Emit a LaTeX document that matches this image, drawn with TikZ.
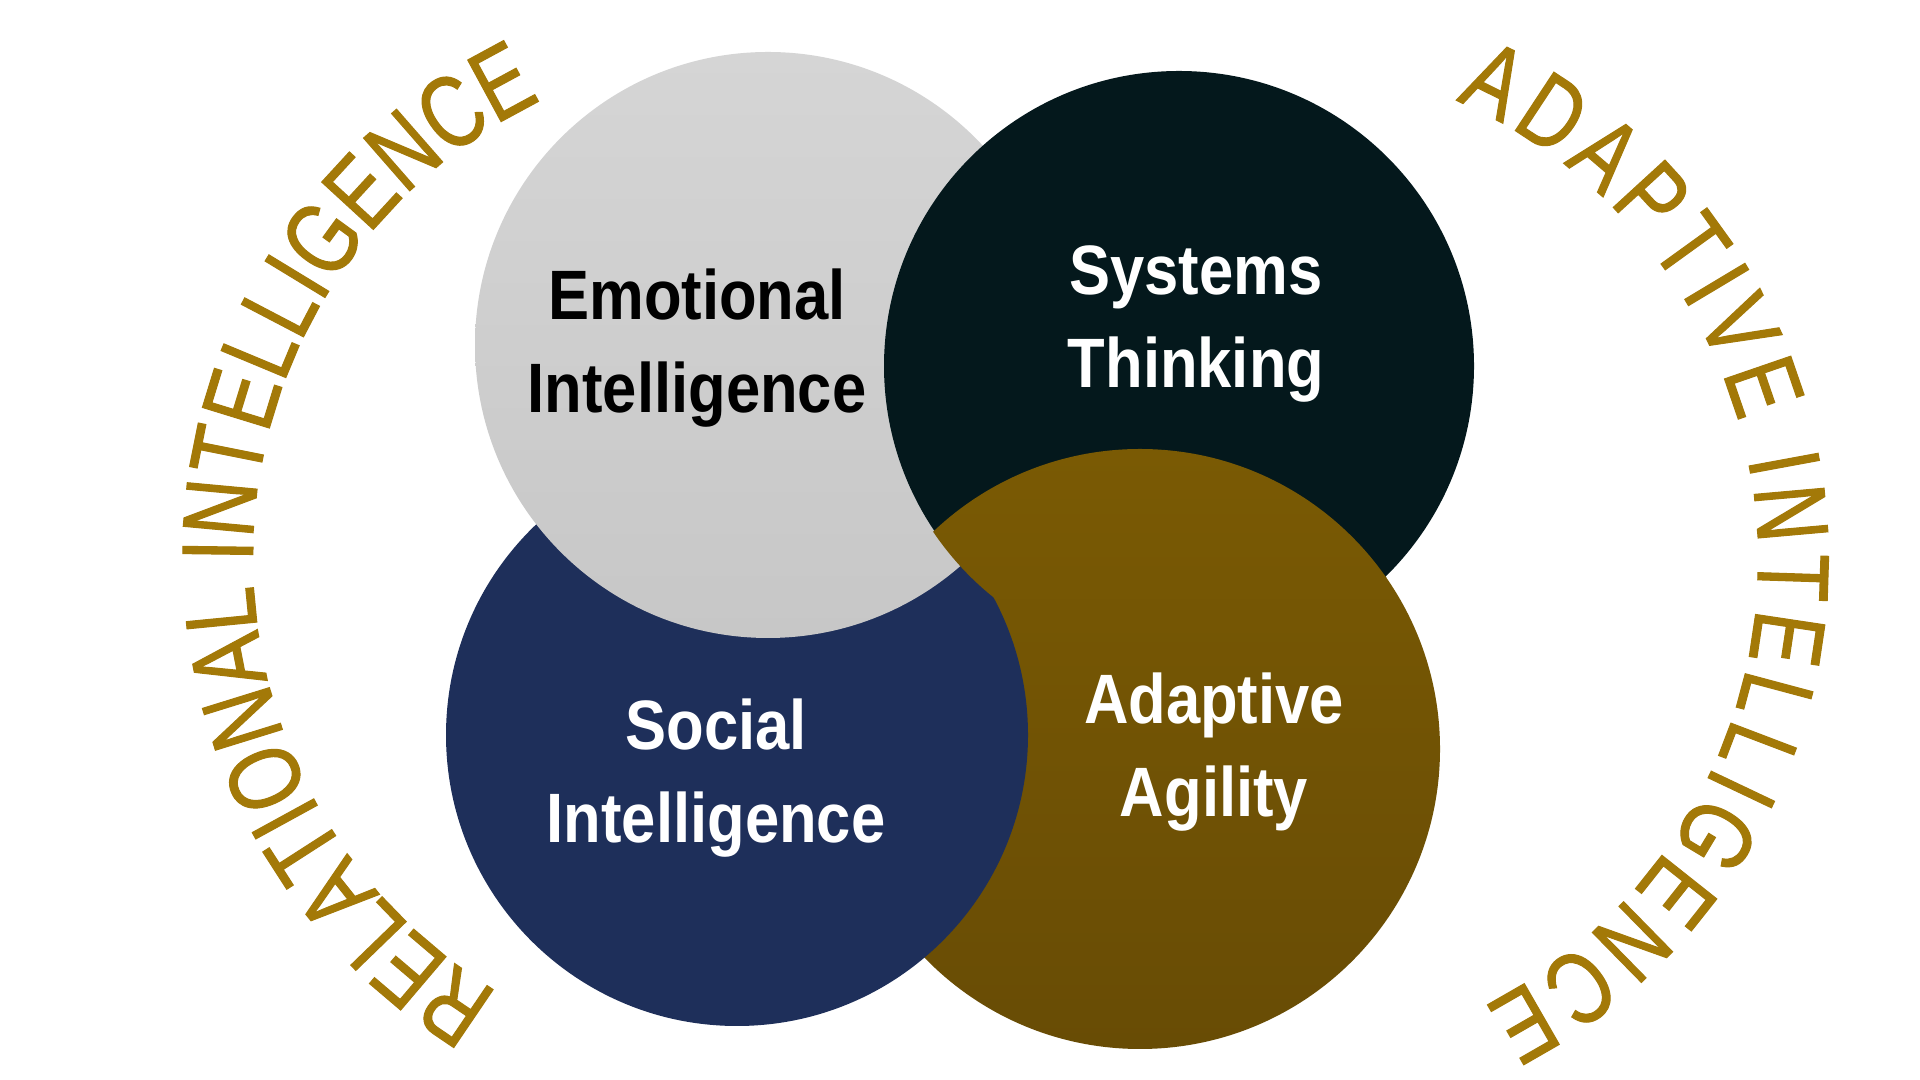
\documentclass[tikz,border=0pt]{standalone}
\usepackage{fontspec}
\usetikzlibrary{decorations.text}
\newfontfamily\labelfont[FakeStretch=0.88]{Liberation Sans}
\newfontfamily\arcfont[FakeStretch=0.77,FakeBold=1.0]{Liberation Sans}
\definecolor{gold}{RGB}{163,121,8}
\definecolor{navyc}{RGB}{30,47,90}
\definecolor{darkteal}{RGB}{4,24,28}
\definecolor{graytop}{RGB}{213,213,213}
\definecolor{graybot}{RGB}{199,199,199}
\definecolor{browntop}{RGB}{122,90,4}
\definecolor{brownbot}{RGB}{104,76,5}
\begin{document}
\begin{tikzpicture}[
  lbl/.style={anchor=base, align=center, font=\labelfont\bfseries\fontsize{19.9}{26.5}\selectfont, text=white, inner sep=0pt},
  arcstyle/.style={decorate, decoration={text along path, text={|\arcfont\fontsize{29}{29}\selectfont|#1}, text align={fit to path}, text color=gold}},
  browncirc/.style={top color=browntop, bottom color=brownbot}
]
\useasboundingbox (0,0) rectangle (19.2,10.8);
\fill[white] (0,0) rectangle (19.2,10.8);

% circles (cyclic overlap)
\shade[browncirc] (11.40,3.31) circle (3.00);
\fill[navyc] (7.37,3.45) circle (2.91);
\shade[top color=graytop, bottom color=graybot] (7.68,7.35) circle (2.93);
\fill[darkteal] (11.79,7.14) circle (2.95);
\begin{scope}
  \clip (11.79,7.14) circle (2.965);
  \shade[browncirc] (11.40,3.31) circle (3.00);
\end{scope}

% labels (anchor = baseline of last line)
\node[lbl, text=black] (emo) at (6.97,6.67) {Emotional\\Intelligence};
\node[lbl] (sys) at (11.96,6.92) {Systems\\Thinking};
\node[lbl] (soc) at (7.16,2.37) {Social\\Intelligence};
\node[lbl] (ada) at (12.14,2.63) {Adaptive\\Agility};

% arc texts
\coordinate (lc) at (7.60,5.22);
\coordinate (rc) at (12.58,5.20);
\path[arcstyle={RELATIONAL INTELLIGENCE}] ([shift={(239:5.07)}]lc) arc[start angle=239, end angle=115.5, radius=5.07];
\path[arcstyle={ADAPTIVE INTELLIGENCE}] ([shift={(66.7:5.00)}]rc) arc[start angle=66.7, end angle=-63.1, radius=5.00];
\end{tikzpicture}
\end{document}
